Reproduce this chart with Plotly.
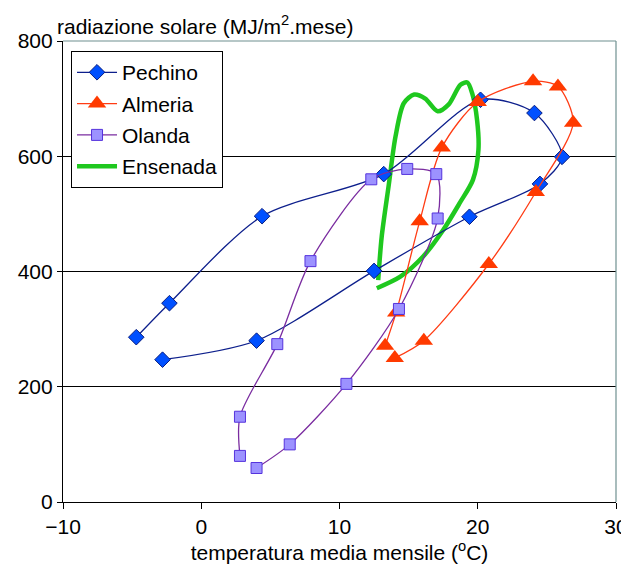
import plotly.graph_objects as go

# Pechino (Beijing) monthly mean temperature (°C) and solar radiation (MJ/m2.month), Jan..Dec
pechino_t = [-4.7, -2.3, 4.4, 13.2, 20.2, 24.1, 26.1, 24.5, 19.4, 12.5, 4.0, -2.8]
pechino_r = [286, 345, 496, 569, 698, 675, 599, 552, 495, 401, 280, 247]

# Almeria
almeria_t = [13.3, 14.1, 15.8, 17.4, 20.0, 24.0, 25.8, 26.9, 24.2, 20.8, 16.1, 14.0]
almeria_r = [271, 329, 487, 615, 694, 730, 721, 658, 538, 413, 280, 250]

# Olanda (Netherlands)
olanda_t = [2.8, 2.8, 5.5, 7.9, 12.3, 14.9, 17.0, 17.1, 14.3, 10.5, 6.4, 4.0]
olanda_r = [80, 148, 274, 418, 560, 578, 569, 492, 335, 205, 100, 59]

# Ensenada (smooth curve, no markers)
ensenada_t = [12.8, 13.05, 13.55, 14.05, 14.65, 15.4, 16.2, 17.1, 17.9, 18.75, 19.25,
              19.6, 19.95, 20.05, 19.65, 18.7, 17.5, 16.05, 14.4, 12.7]
ensenada_r = [385, 460, 548, 634, 692, 707, 700, 678, 690, 724, 728,
              709, 663, 611, 559, 519, 472, 426, 391, 371]

x_ticks = [-10, 0, 10, 20, 30]
y_ticks = [0, 200, 400, 600, 800]

FONT = "Liberation Sans, Arial, sans-serif"
FS = 21

fig = go.Figure()

fig.add_trace(go.Scatter(
    x=ensenada_t, y=ensenada_r, name="Ensenada", mode="lines",
    line=dict(color="#1fc81f", width=4.5, shape="spline", smoothing=0.8),
    legendrank=4, legendgroup="d",
))
fig.add_trace(go.Scatter(
    x=pechino_t, y=pechino_r, name="Pechino", mode="lines+markers",
    line=dict(color="#0d1f8c", width=1.3, shape="spline", smoothing=0.8),
    marker=dict(symbol="diamond", size=12, color="#0050ff",
                line=dict(color="#0a1e80", width=1)),
    legendrank=1, legendgroup="a",
))
fig.add_trace(go.Scatter(
    x=almeria_t, y=almeria_r, name="Almeria", mode="lines+markers",
    line=dict(color="#ff3c14", width=1.3, shape="spline", smoothing=0.8),
    marker=dict(symbol="triangle-up", size=16, color="#ff3a00",
                line=dict(color="#ff3a00", width=0)),
    legendrank=2, legendgroup="b",
))
fig.add_trace(go.Scatter(
    x=olanda_t, y=olanda_r, name="Olanda", mode="lines+markers",
    line=dict(color="#7a2ca0", width=1.3, shape="spline", smoothing=0.8),
    marker=dict(symbol="square", size=11, color="#9c92ff",
                line=dict(color="#5533dd", width=1)),
    legendrank=3, legendgroup="c",
))

# page body has an 8px default margin: figure is sized/offset to compensate
fig.update_layout(
    width=621, height=561,
    margin=dict(l=55, r=13, t=33, b=67),
    paper_bgcolor="white", plot_bgcolor="white",
    font=dict(family=FONT, size=FS, color="black"),
    showlegend=True,
    legend=dict(
        x=0.0145, y=0.978, xanchor="left", yanchor="top",
        bgcolor="white", bordercolor="black", borderwidth=1,
        font=dict(family=FONT, size=FS, color="black"),
        tracegroupgap=1, itemwidth=40,
    ),
    xaxis=dict(
        range=[-10, 30], tickvals=x_ticks, ticks="outside", ticklen=6,
        tickcolor="black", showline=True, linecolor="black", linewidth=1.2,
        showgrid=False, zeroline=False, automargin=False,
        tickfont=dict(family=FONT, size=FS, color="black"),
        title=dict(text="temperatura media mensile (<sup>o</sup>C)",
                   font=dict(family=FONT, size=FS, color="black"), standoff=2),
    ),
    yaxis=dict(
        range=[0, 800], tickvals=y_ticks, ticks="outside", ticklen=5,
        tickcolor="black", showline=True, linecolor="black", linewidth=1.2,
        showgrid=True, gridcolor="black", gridwidth=1, zeroline=False,
        automargin=False,
        tickfont=dict(family=FONT, size=FS, color="black"),
    ),
    annotations=[dict(
        text="radiazione solare (MJ/m<sup>2</sup>.mese)",
        xref="paper", yref="paper", x=-0.0145, y=1.035,
        xanchor="left", yanchor="middle", showarrow=False,
        font=dict(family=FONT, size=FS, color="black"),
    )],
    shapes=[
        dict(type="line", xref="paper", yref="paper", x0=0, x1=1, y0=1, y1=1,
             line=dict(color="#6f9090", width=1.2), layer="above"),
        dict(type="line", xref="paper", yref="paper", x0=1, x1=1, y0=0, y1=1,
             line=dict(color="#6f9090", width=1.2), layer="above"),
    ],
)

fig.write_html("out.html")
